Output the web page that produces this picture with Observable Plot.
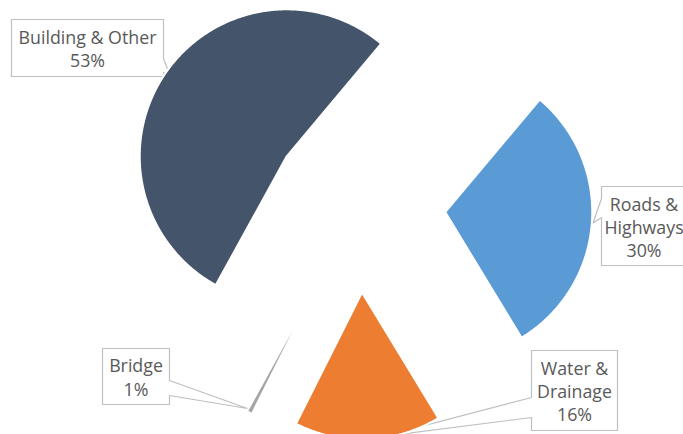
<!DOCTYPE html>
<html><head><meta charset="utf-8">
<script src="https://cdn.jsdelivr.net/npm/d3@7"></script>
<script src="https://cdn.jsdelivr.net/npm/@observablehq/plot@0.6"></script>
<style>html,body{margin:0;padding:0;background:#fff;overflow:hidden}</style>
</head><body><div id="chart"></div>
<script>
// ---- data ----
const categories = ["Roads & Highways", "Water & Drainage", "Bridge", "Building & Other"];
const shares = [30.2, 16.1, 0.6, 53.1];
const labelNames = [["Roads &", "Highways"], ["Water &", "Drainage"], ["Bridge"], ["Building & Other"]];
const colors = ["#5B9BD5", "#ED7D31", "#A5A5A5", "#44546A"];

// ---- layout (pixels) ----
const W = 683, H = 434;
const CX = 358, CY = 205, R = 147, EXPLODE = 87 / 147, START = 40 * Math.PI / 180;
const px = (x) => (x - CX) / R, py = (y) => (CY - y) / R;

// callout outlines (pixel layout)
const callouts = [
  [[601,186],[692,186],[692,265],[601,265],[601,217],[592.5,222.5],[601,198]],
  [[531,350],[617,350],[617,430],[531,430],[531,417],[382,436],[531,397]],
  [[102,348],[169,348],[169,380],[247,408],[169,395],[169,404],[102,404]],
  [[11,19],[163,19],[163,58],[171,79],[163,72],[163,76],[11,76]]
];
const labelCenters = [[643.5, 226], [574, 390], [135.5, 376], [87, 47.5]];

// ---- slices ----
const arcs = d3.pie().sort(null).startAngle(START).endAngle(START + 2 * Math.PI)(shares);
const slicePts = [];
arcs.forEach((a, i) => {
  const m = (a.startAngle + a.endAngle) / 2;
  const ox = EXPLODE * Math.sin(m), oy = EXPLODE * Math.cos(m);
  slicePts.push({cat: categories[i], x: ox, y: oy});
  const n = Math.max(2, Math.ceil((a.endAngle - a.startAngle) / (Math.PI / 360)));
  for (let k = 0; k <= n; k++) {
    const t = a.startAngle + (a.endAngle - a.startAngle) * k / n;
    slicePts.push({cat: categories[i], x: ox + Math.sin(t), y: oy + Math.cos(t)});
  }
});

const calloutPts = callouts.flatMap((pts, i) => pts.map(([x, y]) => ({id: i, x: px(x), y: py(y)})));
const labels = categories.map((c, i) => ({
  x: px(labelCenters[i][0]), y: py(labelCenters[i][1]),
  text: labelNames[i].join("\n") + "\n" + Math.round(shares[i]) + "%"
}));

const chart = Plot.plot({
  width: W, height: H, margin: 0,
  x: {domain: [px(0), px(W)], axis: null},
  y: {domain: [py(H), py(0)], axis: null},
  color: {domain: categories, range: colors},
  marks: [
    Plot.line(calloutPts, {x: "x", y: "y", z: "id", fill: "white", stroke: "#BFBFBF", strokeWidth: 1.2, curve: "linear-closed"}),
    Plot.line(slicePts, {x: "x", y: "y", z: "cat", fill: "cat", stroke: "white", strokeWidth: 2, curve: "linear-closed"}),
    Plot.text(labels, {x: "x", y: "y", text: "text", fontSize: 17.8, lineHeight: 1.31, fill: "#595959", fontFamily: "Open Sans"})
  ]
});
document.getElementById("chart").appendChild(chart);
</script>
</body></html>
